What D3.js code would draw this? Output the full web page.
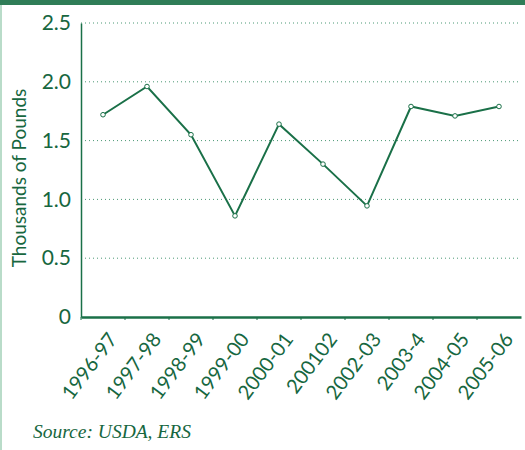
<!DOCTYPE html>
<html>
<head>
<meta charset="utf-8">
<script src="https://cdn.jsdelivr.net/npm/d3@7"></script>
<style>
  body { margin: 0; background: #fff; }
  svg { display: block; }
</style>
</head>
<body>
<div id="chart"></div>
<script>
const seasons = ["1996-97", "1997-98", "1998-99", "1999-00", "2000-01", "200102", "2002-03", "2003-4", "2004-05", "2005-06"];
const pounds = [1.72, 1.96, 1.55, 0.86, 1.64, 1.30, 0.945, 1.79, 1.71, 1.79];
const yTicks = [0, 0.5, 1.0, 1.5, 2.0, 2.5];

const width = 525, height = 450;
const margin = { top: 23, right: 4, bottom: 133, left: 81 };
const green = "#1a7048";
const textGreen = "#17673f";

let svg = d3.select("#chart").append("svg")
    .attr("width", width)
    .attr("height", height);

// top band and left edge
svg.append("rect").attr("x", 0).attr("y", 0).attr("width", width).attr("height", 5).attr("fill", "#2f7d57");
svg.append("rect").attr("x", 0).attr("y", 5).attr("width", 2).attr("height", height - 5).attr("fill", "#b9dcc9");

let x = d3.scaleBand()
    .domain(seasons)
    .range([margin.left, width - margin.right]);

let y = d3.scaleLinear()
    .domain([0, 2.5])
    .range([height - margin.bottom, margin.top]);

// dotted gridlines
svg.append("g")
    .selectAll("line")
    .data(yTicks.filter(d => d > 0))
    .enter()
    .append("line")
    .attr("x1", margin.left)
    .attr("x2", width - margin.right)
    .attr("y1", d => y(d))
    .attr("y2", d => y(d))
    .attr("stroke", "#4a9874")
    .attr("stroke-width", 1)
    .attr("stroke-dasharray", "1,3");

// y axis
let yAxis = svg.append("g")
    .attr("transform", "translate(" + margin.left + ",0)")
    .call(d3.axisLeft(y).tickValues(yTicks).tickSize(0).tickPadding(10)
        .tickFormat(d => d === 0 ? "0" : d3.format(".1f")(d)));
yAxis.select(".domain").attr("stroke", green).attr("stroke-width", 1.5);
yAxis.selectAll("text")
    .attr("fill", textGreen)
    .style("font-family", "Lato, 'Noto Sans', sans-serif")
    .style("font-size", "21px");

// x axis
let xAxis = svg.append("g")
    .attr("transform", "translate(0," + y(0) + ")")
    .call(d3.axisBottom(x).tickSize(0).tickFormat(""));
xAxis.select(".domain").attr("stroke", green).attr("stroke-width", 2.5);

// x tick marks between categories
svg.append("g")
    .selectAll("line")
    .data(seasons)
    .enter()
    .append("line")
    .attr("x1", d => x(d))
    .attr("x2", d => x(d))
    .attr("y1", y(0))
    .attr("y2", y(0) + 3)
    .attr("stroke", green)
    .attr("stroke-width", 1);

// rotated category labels
svg.append("g")
    .selectAll("text")
    .data(seasons)
    .enter()
    .append("text")
    .attr("transform", d => "translate(" + (x(d) + x.bandwidth() / 2 + 4) + "," + (y(0) + 14) + ") rotate(-53)")
    .attr("text-anchor", "end")
    .attr("dy", "0.7em")
    .attr("fill", textGreen)
    .style("font-family", "Lato, 'Noto Sans', sans-serif")
    .style("font-size", "20px")
    .text(d => d);

// y title
svg.append("text")
    .attr("transform", "translate(26," + ((margin.top + y(0)) / 2 + 8) + ") rotate(-90)")
    .attr("text-anchor", "middle")
    .attr("fill", textGreen)
    .style("font-family", "Lato, 'Noto Sans', sans-serif")
    .style("font-size", "19px")
    .text("Thousands of Pounds");

// line
let line = d3.line()
    .x((d, i) => x(seasons[i]) + x.bandwidth() / 2)
    .y(d => y(d));

svg.append("path")
    .datum(pounds)
    .attr("d", line)
    .attr("fill", "none")
    .attr("stroke", green)
    .attr("stroke-width", 2);

svg.append("g")
    .selectAll("circle")
    .data(pounds)
    .enter()
    .append("circle")
    .attr("cx", (d, i) => x(seasons[i]) + x.bandwidth() / 2)
    .attr("cy", d => y(d))
    .attr("r", 2.3)
    .attr("fill", "#fff")
    .attr("stroke", green)
    .attr("stroke-width", 1);

// source note
svg.append("text")
    .attr("x", 33)
    .attr("y", 438)
    .attr("fill", textGreen)
    .style("font-family", "'Liberation Serif', serif")
    .style("font-style", "italic")
    .style("font-size", "19.5px")
    .text("Source: USDA, ERS");
</script>
</body>
</html>
